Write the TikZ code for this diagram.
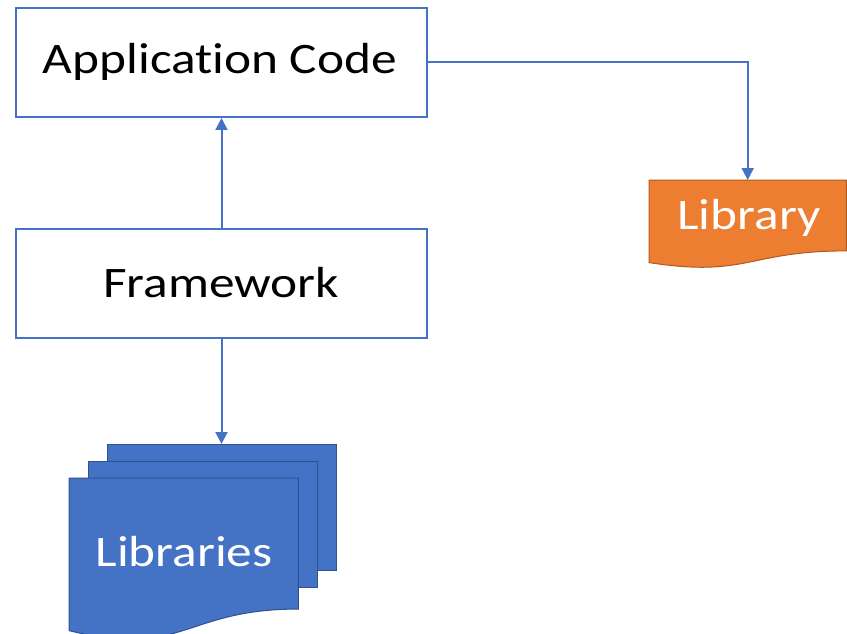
\documentclass[tikz,border=0pt]{standalone}
\usepackage{fontspec}
\setmainfont[Ligatures=NoCommon]{Carlito}
\usetikzlibrary{arrows.meta,calc}
\definecolor{boxblue}{HTML}{4472C4}
\definecolor{edgeblue}{HTML}{2F528F}
\definecolor{fillorange}{HTML}{ED7D31}
\definecolor{edgeorange}{HTML}{AE5A21}
\newcommand{\wide}[1]{\scalebox{1.18}[1]{#1}}
\tikzset{
  codebox/.style={draw=boxblue, line width=2pt, fill=white, minimum width=411pt, minimum height=109pt, inner sep=0pt, anchor=north west},
  label/.style={font=\fontsize{43.5}{50}\selectfont, inner sep=0pt},
  conn/.style={draw=boxblue, line width=2pt, -{Triangle[length=12pt,width=12pt]}},
  holder/.style={inner sep=0pt, anchor=north west},
}
\newcommand{\docpath}[2]{% #1 node name, #2 style
  \path[#2] (#1.north west) -- (#1.north east)
    -- ($(#1.north east)!0.802!(#1.south east)$)
    .. controls ($(#1.north west)!0.802!(#1.south west)+(0.5*\docw,0)$)
    and ($(#1.north west)!1.107!(#1.south west)+(0.5*\docw,0)$)
    .. ($(#1.north west)!0.934!(#1.south west)$) -- cycle;}
\begin{document}
\begin{tikzpicture}[x=1pt,y=-1pt]
\useasboundingbox[fill=white] (0,0) rectangle (847,634);
% boxes
\node[codebox] (app) at (15,7) {};
\node[label] (apptext) at (220,62) {\wide{Application Code}};
\node[codebox] (fw) at (15,228) {};
\node[label] (fwtext) at (221,283) {\wide{Framework}};
% Library (orange document)
\node[holder, minimum width=197pt, minimum height=88pt] (lib) at (649,180) {};
\def\docw{197pt}
\docpath{lib}{fill=fillorange, draw=edgeorange, line width=1pt}
\node[label, text=white] (libtext) at (749,218) {\wide{Library}};
% Libraries (multi-document)
\node[holder, minimum width=229pt, minimum height=126pt] (back) at (107,444) {};
\node[holder, minimum width=229pt, minimum height=126pt] (mid) at (88,461) {};
\node[holder, minimum width=229pt, minimum height=163pt] (front) at (69,478) {};
\draw[fill=boxblue, draw=edgeblue, line width=1pt] (back.north west) rectangle (back.south east);
\draw[fill=boxblue, draw=edgeblue, line width=1pt] (mid.north west) rectangle (mid.south east);
\def\docw{229pt}
\docpath{front}{fill=boxblue, draw=edgeblue, line width=1pt}
\node[label, text=white] (libstext) at (184,552) {\wide{Libraries}};
% connectors
\draw[conn] (fw.north) -- (app.south);
\draw[conn] (fw.south) -- (fw.south |- back.north);
\draw[conn] (app.east) -| (lib.north);
\end{tikzpicture}
\end{document}
